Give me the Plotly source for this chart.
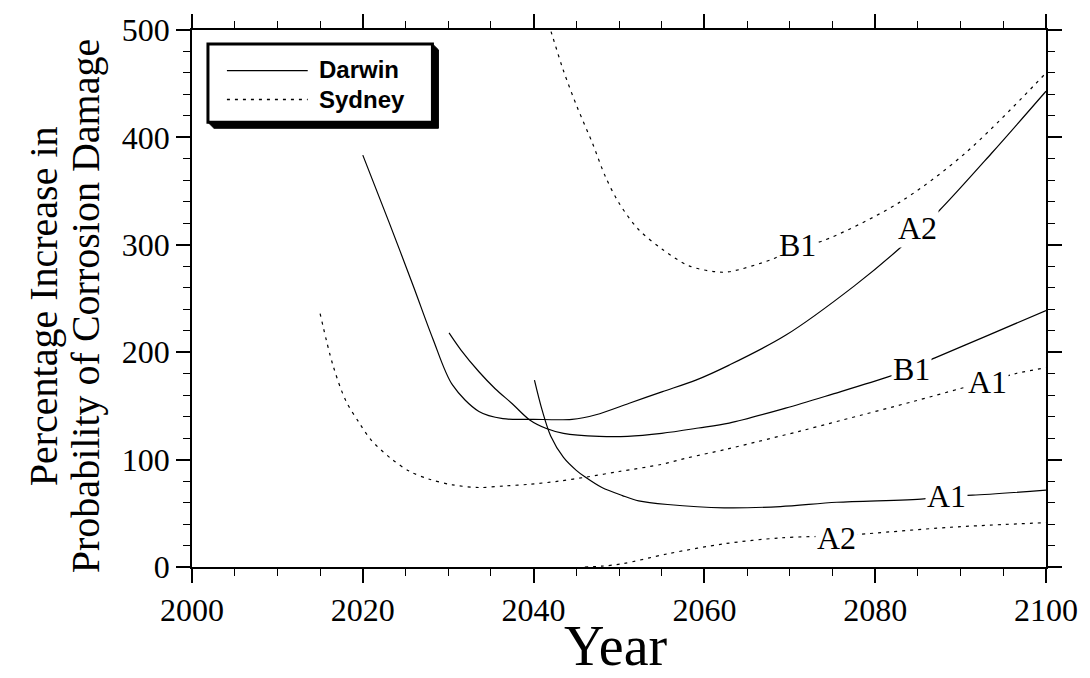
import plotly.graph_objects as go

# Percentage increase in probability of corrosion damage, by year
# Darwin (solid lines)
darwin_a2_year = [2020, 2023.1, 2025.9, 2028.2, 2030.5, 2033.6, 2036.4, 2040, 2044.5,
                  2047.3, 2051.2, 2055.1, 2059, 2062.9, 2069.5, 2077.6, 2082.9, 2087.4,
                  2093.6, 2100]
darwin_a2_pct = [383.5, 320.4, 261.9, 212.6, 169.5, 144.8, 138.1, 137.5, 137.5,
                 141.8, 152.5, 163.3, 174, 188, 215.7, 262, 297, 331, 385, 443]

darwin_b1_year = [2030.1, 2031.5, 2033.6, 2035.5, 2037.5, 2039.5, 2041.5, 2043.5, 2047.7,
                  2051, 2055, 2059.3, 2062.9, 2069.5, 2075, 2081.5, 2084.2, 2087, 2093, 2100]
darwin_b1_pct = [218, 202, 181.8, 166, 152, 137.2, 129, 124.5, 121.7,
                 121.7, 124.5, 129.4, 134, 147.9, 161, 177, 184.8, 194.7, 215, 238.8]

darwin_a1_year = [2040.1, 2041, 2042, 2043.5, 2045, 2046, 2048, 2050.4, 2052.3, 2055.7,
                  2062.3, 2068.9, 2075.5, 2085.7, 2088.4, 2091.4, 2100]
darwin_a1_pct = [174, 146, 122, 102, 90, 84, 74, 66.5, 61.6, 58.2,
                 55.1, 56.3, 60.3, 63.4, 66.3, 66.9, 71.5]

# Sydney (dotted lines)
sydney_b1_year = [2041.2, 2042.3, 2043.5, 2045.1, 2046.9, 2048.4, 2050, 2052.3, 2055.1,
                  2058.2, 2061.3, 2062.9, 2067.9, 2070.9, 2073.8, 2082.7, 2090.5, 2100]
sydney_b1_pct = [520, 492, 462, 428.3, 394.4, 363.6, 338.9, 314.2, 295.7,
                 280.4, 274.9, 274.9, 286.5, 298, 303.5, 338.8, 385, 460]

sydney_a1_year = [2015, 2016.5, 2018, 2019.6, 2021, 2023.3, 2025.5, 2027.8, 2030.5, 2033.6,
                  2036.6, 2039.5, 2043, 2046, 2050, 2055, 2058, 2062.5, 2066, 2071.1,
                  2076, 2084.4, 2090.1, 2093.1, 2096.5, 2100]
sydney_a1_pct = [236, 188, 155, 134, 118, 101, 89, 81.7, 76.5, 74,
                 75.5, 77, 80, 83.5, 88.9, 95.6, 101.6, 109.5, 116.3, 126.3,
                 136.5, 154, 166.4, 172.6, 180.2, 185.5]

sydney_a2_year = [2046, 2048, 2050.4, 2055.7, 2062.3, 2068.9, 2075.5, 2077.8, 2088.8, 2100]
sydney_a2_pct = [0, 0.8, 3, 12.3, 21.6, 27.1, 29, 30.2, 37, 41.3]

# In-line scenario labels: (text, year, value)
curve_labels = [
    ("B1", 2070.9, 300),
    ("A2", 2084.9, 315.6),
    ("B1", 2084.2, 184.8),
    ("A1", 2093.1, 172.6),
    ("A1", 2088.4, 66.3),
    ("A2", 2075.5, 27),
]

SERIF = "Liberation Serif, Times New Roman, serif"
SANS = "Liberation Sans, Arial, sans-serif"

W, H = 1090, 678
ML, MR, MT, MB = 192, 42, 26, 111
PW, PH = W - ML - MR, H - MT - MB


def px(x):
    return (x - ML) / PW


def py(y):
    return (H - MB - y) / PH


solid = dict(color="black", width=1.2)
dotted = dict(color="black", width=1.2, dash="3px,5px")

fig = go.Figure()
for xs, ys, style in [
    (darwin_a2_year, darwin_a2_pct, solid),
    (darwin_b1_year, darwin_b1_pct, solid),
    (darwin_a1_year, darwin_a1_pct, solid),
    (sydney_b1_year, sydney_b1_pct, dotted),
    (sydney_a1_year, sydney_a1_pct, dotted),
    (sydney_a2_year, sydney_a2_pct, dotted),
]:
    fig.add_trace(go.Scatter(x=xs, y=ys, mode="lines", line=dict(shape="spline", smoothing=0.9, **style),
                             showlegend=False, hoverinfo="skip"))

for text, xv, yv in curve_labels:
    fig.add_annotation(x=xv, y=yv, xref="x", yref="y", text=text, showarrow=False,
                       bgcolor="white", borderpad=1,
                       font=dict(family=SERIF, size=32, color="black"))

# Legend box with drop shadow
bx0, by0, bx1, by1 = 208, 40, 433, 119
sh = 6
shadow_path = (f"M {px(bx1)} {py(by0)} L {px(bx1 + sh)} {py(by0 + sh)} "
               f"L {px(bx1 + sh)} {py(by1 + sh)} L {px(bx0 + sh)} {py(by1 + sh)} "
               f"L {px(bx0)} {py(by1)} Z")
fig.add_shape(type="path", xref="paper", yref="paper", path=shadow_path,
              fillcolor="black", line=dict(color="black", width=1), layer="above")
fig.add_shape(type="rect", xref="paper", yref="paper",
              x0=px(bx0), x1=px(bx1), y0=py(by1), y1=py(by0),
              fillcolor="white", line=dict(color="black", width=3), layer="above")
fig.add_shape(type="line", xref="paper", yref="paper", x0=px(227), x1=px(308),
              y0=py(67), y1=py(67), line=dict(color="black", width=1.3), layer="above")
fig.add_shape(type="line", xref="paper", yref="paper", x0=px(227), x1=px(308),
              y0=py(96), y1=py(96), line=dict(color="black", width=1.3, dash="3px,5px"), layer="above")
for name, yy in [("Darwin", 66), ("Sydney", 96)]:
    fig.add_annotation(x=px(317), y=py(yy), xref="paper", yref="paper", text=f"<b>{name}</b>",
                       showarrow=False, xanchor="left", yanchor="middle",
                       font=dict(family=SANS, size=24, color="black"))

# Axis titles
for line_text, cx in [("Percentage Increase in", 44), ("Probability of Corrosion Damage", 86)]:
    fig.add_annotation(x=px(cx), y=py(304), xref="paper", yref="paper", text=line_text,
                       textangle=-90, showarrow=False, xanchor="center", yanchor="middle",
                       font=dict(family=SERIF, size=40, color="black"))
fig.add_annotation(x=px(617), y=py(647), xref="paper", yref="paper", text="Year",
                   showarrow=False, xanchor="center", yanchor="middle",
                   font=dict(family=SERIF, size=56, color="black"))

axis_common = dict(
    showline=True, linecolor="black", linewidth=1.5, mirror="ticks",
    ticks="outside", ticklen=14, tickwidth=1.5, tickcolor="black",
    showgrid=False, zeroline=False,
    tickfont=dict(family=SERIF, size=32, color="black"),
)

fig.update_xaxes(range=[2000, 2100], dtick=20, tick0=2000,
                 minor=dict(dtick=5, ticks="outside", ticklen=7, tickwidth=1.2, tickcolor="black", showgrid=False),
                 **axis_common)
fig.update_yaxes(range=[0, 500], dtick=100, tick0=0,
                 minor=dict(dtick=20, ticks="outside", ticklen=7, tickwidth=1.2, tickcolor="black", showgrid=False),
                 **axis_common)

fig.update_layout(width=W, height=H, margin=dict(l=ML, r=MR, t=MT, b=MB, pad=0),
                  paper_bgcolor="white", plot_bgcolor="white", showlegend=False)

fig.write_html("out.html")
